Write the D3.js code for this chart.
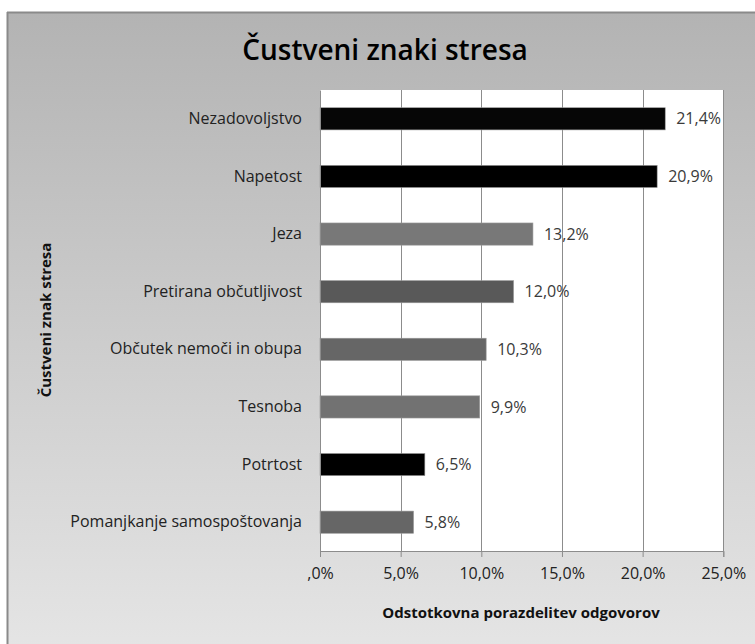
<!DOCTYPE html>
<html>
<head>
<meta charset="utf-8">
<script src="https://cdn.jsdelivr.net/npm/d3@7"></script>
<style>
  html, body { margin: 0; padding: 0; background: #fff; }
  svg { display: block; }
  text { font-family: "Open Sans", "Noto Sans", sans-serif; }
</style>
</head>
<body>
<svg id="chart" width="755" height="644"></svg>
<script>
const categories = ["Nezadovoljstvo", "Napetost", "Jeza", "Pretirana občutljivost", "Občutek nemoči in obupa", "Tesnoba", "Potrtost", "Pomanjkanje samospoštovanja"];
const values = [21.4, 20.9, 13.2, 12.0, 10.3, 9.9, 6.5, 5.8];
const barColors = ["#060606", "#000000", "#787878", "#595959", "#666666", "#727272", "#000000", "#666666"];
const tickValues = [0, 5, 10, 15, 20, 25];
const tickLabels = [",0%", "5,0%", "10,0%", "15,0%", "20,0%", "25,0%"];
const valueLabels = ["21,4%", "20,9%", "13,2%", "12,0%", "10,3%", "9,9%", "6,5%", "5,8%"];
const title = "Čustveni znaki stresa";
const xTitle = "Odstotkovna porazdelitev odgovorov";
const yTitle = "Čustveni znak stresa";

const svg = d3.select("#chart");
const defs = svg.append("defs");
const grad = defs.append("linearGradient").attr("id", "bg").attr("x1", 0).attr("y1", 0).attr("x2", 0).attr("y2", 1);
grad.append("stop").attr("offset", "0%").attr("stop-color", "#b3b3b3");
grad.append("stop").attr("offset", "100%").attr("stop-color", "#e5e5e5");

// chart background frame
svg.append("rect").attr("x", 7).attr("y", 12).attr("width", 760).attr("height", 640).attr("fill", "url(#bg)");
svg.append("line").attr("x1", 7.5).attr("x2", 7.5).attr("y1", 12).attr("y2", 644).attr("stroke", "#8a8a8a").attr("stroke-width", 2);
svg.append("line").attr("x1", 7).attr("x2", 755).attr("y1", 12.5).attr("y2", 12.5).attr("stroke", "#8a8a8a").attr("stroke-width", 2);

const plot = { left: 320, right: 723.3, top: 90, bottom: 551 };
const x = d3.scaleLinear().domain([0, 25]).range([plot.left, plot.right]);
const y = d3.scaleBand().domain(categories).range([plot.top, plot.bottom]).paddingInner(0.615).paddingOuter(0.3075);

// plot area
svg.append("rect").attr("x", plot.left).attr("y", plot.top).attr("width", plot.right - plot.left).attr("height", plot.bottom - plot.top).attr("fill", "#ffffff");

// gridlines
svg.append("g").selectAll("line").data(tickValues.slice(1)).join("line")
  .attr("x1", d => Math.round(x(d)) + 0.5).attr("x2", d => Math.round(x(d)) + 0.5)
  .attr("y1", plot.top).attr("y2", plot.bottom)
  .attr("stroke", "#8c8c8c").attr("stroke-width", 1);

// bars
svg.append("g").selectAll("rect").data(values).join("rect")
  .attr("x", x(0))
  .attr("y", (d, i) => y(categories[i]))
  .attr("width", d => x(d) - x(0))
  .attr("height", y.bandwidth())
  .attr("fill", (d, i) => barColors[i])
  .attr("stroke", "#9a9a9a").attr("stroke-width", 0.6);

// value labels
svg.append("g").selectAll("text").data(values).join("text")
  .attr("x", d => x(d) + 11)
  .attr("y", (d, i) => y(categories[i]) + y.bandwidth() / 2)
  .attr("dy", "0.35em")
  .attr("font-size", 16)
  .attr("fill", "#3a3a3a")
  .text((d, i) => valueLabels[i]);

// x axis
const xAxis = d3.axisBottom(x).tickValues(tickValues).tickFormat((d, i) => tickLabels[i]).tickSize(6).tickPadding(11);
const gx = svg.append("g").attr("transform", `translate(0,${plot.bottom})`).call(xAxis);
gx.select(".domain").attr("stroke", "#8c8c8c");
gx.selectAll(".tick line").attr("stroke", "#8c8c8c");
gx.selectAll(".tick text").attr("font-size", 16).attr("fill", "#222").attr("font-family", "Open Sans, sans-serif");

// y axis
const yAxis = d3.axisLeft(y).tickSize(0).tickPadding(18);
const gy = svg.append("g").attr("transform", `translate(${plot.left},0)`).call(yAxis);
gy.select(".domain").attr("stroke", "#8c8c8c");
gy.selectAll(".tick text").attr("font-size", 16).attr("fill", "#222").attr("font-family", "Open Sans, sans-serif");

// titles
svg.append("text").attr("x", 385).attr("y", 60).attr("text-anchor", "middle")
  .attr("font-size", 28).attr("font-weight", 600).attr("fill", "#000").text(title);
svg.append("text").attr("x", 521).attr("y", 618).attr("text-anchor", "middle")
  .attr("font-size", 15).attr("font-weight", 700).attr("fill", "#111").text(xTitle);
svg.append("text").attr("transform", "translate(51,320) rotate(-90)").attr("text-anchor", "middle")
  .attr("font-size", 15).attr("font-weight", 700).attr("fill", "#111").text(yTitle);
</script>
</body>
</html>
